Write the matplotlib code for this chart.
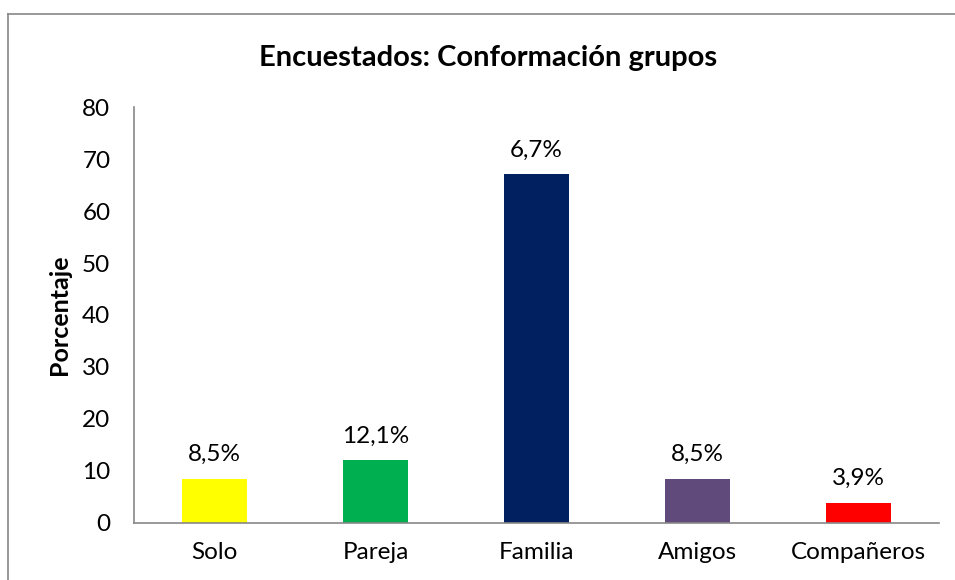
import matplotlib
matplotlib.use('Agg')
import matplotlib.pyplot as plt
from matplotlib.lines import Line2D

# data
categories = ['Solo', 'Pareja', 'Familia', 'Amigos', 'Compañeros']
values = [8.5, 12.1, 67.1, 8.5, 3.9]
labels = ['8,5%', '12,1%', '6,7%', '8,5%', '3,9%']
colors = ['#FFFF00', '#00B050', '#002060', '#604A7B', '#FF0000']

plt.rcParams['font.family'] = ['Lato', 'DejaVu Sans']

fig = plt.figure(figsize=(9.55, 5.8), dpi=100)
ax = fig.add_axes([0.1403, 0.0983, 0.843, 0.7172])

x = list(range(len(categories)))
ax.bar(x, values, width=0.40, color=colors)
for xi, v, lab in zip(x, values, labels):
    ax.text(xi, v + 2.6, lab, ha='center', va='bottom', fontsize=17.5)

ax.set_xlim(-0.5, len(categories) - 0.5)
ax.set_ylim(0, 80)
ax.set_yticks(range(0, 81, 10))
ax.set_xticks(x)
ax.set_xticklabels(categories)
ax.tick_params(axis='both', length=0, labelsize=17.5)
ax.tick_params(axis='y', pad=17)
ax.tick_params(axis='x', pad=14)

for s in ['top', 'right']:
    ax.spines[s].set_visible(False)
for s in ['left', 'bottom']:
    ax.spines[s].set_color('#888888')
    ax.spines[s].set_linewidth(1.2)

ax.set_ylabel('Porcentaje', fontsize=18, fontweight='bold', labelpad=8)
fig.text(0.511, 0.9, 'Encuestados: Conformación grupos', ha='center', va='center',
         fontsize=21, fontweight='bold')

# outer chart frame
fig.add_artist(Line2D([0.0084, 0.0084], [0, 0.976], color='#888888', lw=1.2))
fig.add_artist(Line2D([0.0084, 1.0], [0.976, 0.976], color='#888888', lw=1.2))

fig.savefig('out.png', dpi=100)
